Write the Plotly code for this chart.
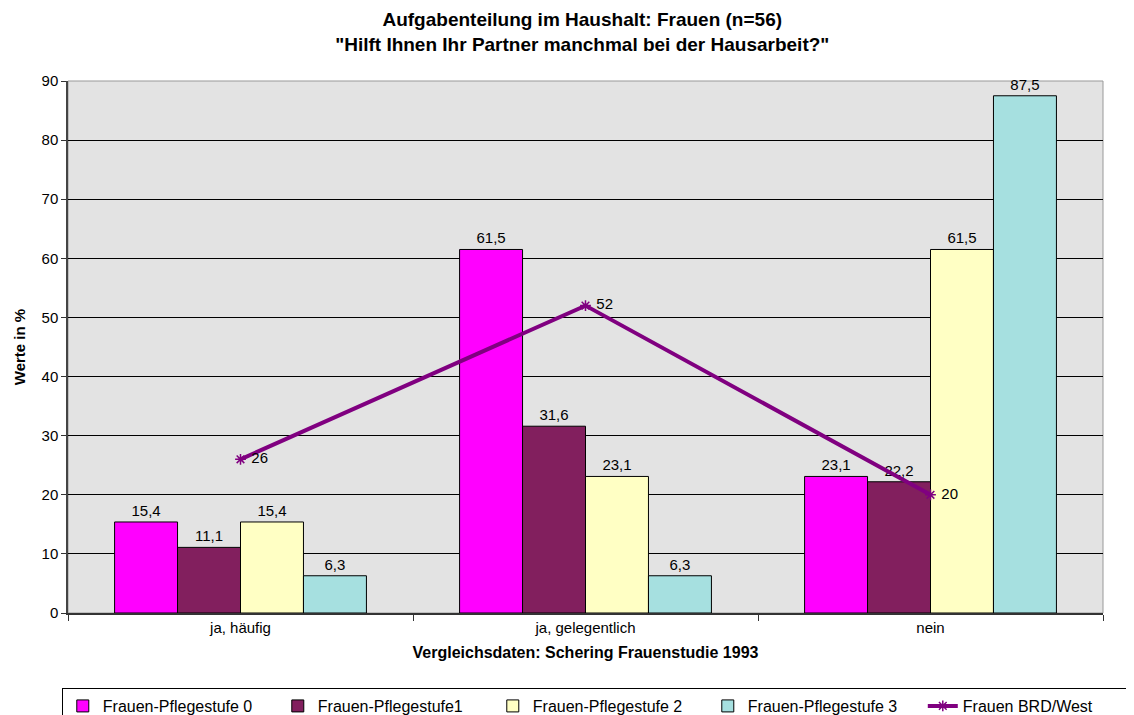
import plotly.graph_objects as go

# ==========================================================
# Data
# ==========================================================

categories = ["ja, häufig", "ja, gelegentlich", "nein"]

pflegestufe_0 = [15.4, 61.5, 23.1]
pflegestufe_1 = [11.1, 31.6, 22.2]
pflegestufe_2 = [15.4, 23.1, 61.5]
pflegestufe_3 = [6.3, 6.3, 87.5]
brd_west = [26, 52, 20]

bar_series = [
    ("Frauen-Pflegestufe 0", pflegestufe_0, "#FF00FF"),
    ("Frauen-Pflegestufe1", pflegestufe_1, "#821F5E"),
    ("Frauen-Pflegestufe 2", pflegestufe_2, "#FFFFC4"),
    ("Frauen-Pflegestufe 3", pflegestufe_3, "#A6E0E0"),
]

FONT = "Liberation Sans, Arial, sans-serif"

# ==========================================================
# Figure
# ==========================================================

fig = go.Figure()

for name, values, color in bar_series:
    fig.add_trace(go.Bar(
        x=categories,
        y=values,
        name=name,
        marker=dict(color=color, line=dict(color="black", width=1)),
        texttemplate="%{y:.1f}",
        textposition="outside",
        cliponaxis=False,
        textfont=dict(family=FONT, size=15, color="black"),
    ))

fig.add_trace(go.Scatter(
    x=categories,
    y=brd_west,
    name="Frauen BRD/West",
    mode="lines+markers+text",
    line=dict(color="#800080", width=4),
    marker=dict(symbol="asterisk", size=9, color="#800080",
                line=dict(color="#800080", width=1.5)),
    texttemplate=" %{y}",
    textposition="middle right",
    textfont=dict(family=FONT, size=15, color="black"),
))

# the page adds an 8px body margin, so the figure is a bit smaller than the window
fig.update_layout(
    width=1126,
    height=707,
    separators=", ",
    barmode="group",
    bargap=0.27,
    bargroupgap=0,
    paper_bgcolor="white",
    plot_bgcolor="#E3E3E3",
    font=dict(family=FONT, size=15, color="black"),
    margin=dict(l=60, r=31, t=73, b=102, autoexpand=False),
    title=dict(
        text="<b>Aufgabenteilung im Haushalt: Frauen (n=56)<br>"
             "\"Hilft Ihnen Ihr Partner manchmal bei der Hausarbeit?\"</b>",
        x=0.51,
        xanchor="center",
        y=0.974,
        yanchor="top",
        font=dict(family=FONT, size=19, color="black"),
    ),
    legend=dict(
        orientation="h",
        x=-0.006,
        xanchor="left",
        y=-0.141,
        yanchor="top",
        bordercolor="black",
        borderwidth=1,
        bgcolor="white",
        entrywidth=170,
        entrywidthmode="pixels",
        font=dict(family=FONT, size=16),
        traceorder="normal",
    ),
)

fig.update_xaxes(
    showline=True,
    linecolor="#333333",
    linewidth=1.5,
    mirror=False,
    ticks="outside",
    tickson="boundaries",
    ticklen=6,
    tickcolor="#333333",
    showgrid=False,
    tickfont=dict(family=FONT, size=15),
    title=dict(
        text="<b>Vergleichsdaten: Schering Frauenstudie 1993</b>",
        font=dict(family=FONT, size=16),
        standoff=12,
    ),
)

fig.update_yaxes(
    range=[0, 90],
    dtick=10,
    showline=True,
    linecolor="#444444",
    linewidth=1.5,
    ticks="outside",
    ticklen=5,
    tickcolor="#333333",
    showgrid=True,
    gridcolor="black",
    gridwidth=1,
    zeroline=False,
    tickfont=dict(family=FONT, size=15),
    title=dict(
        text="<b>Werte in %</b>",
        font=dict(family=FONT, size=15),
        standoff=12,
    ),
)

# thin gray frame on top and right of the plot area
fig.add_shape(type="rect", xref="paper", yref="paper", x0=0, x1=1, y0=0, y1=1,
              line=dict(color="#999999", width=1), layer="below")

fig.write_html("out.html")
